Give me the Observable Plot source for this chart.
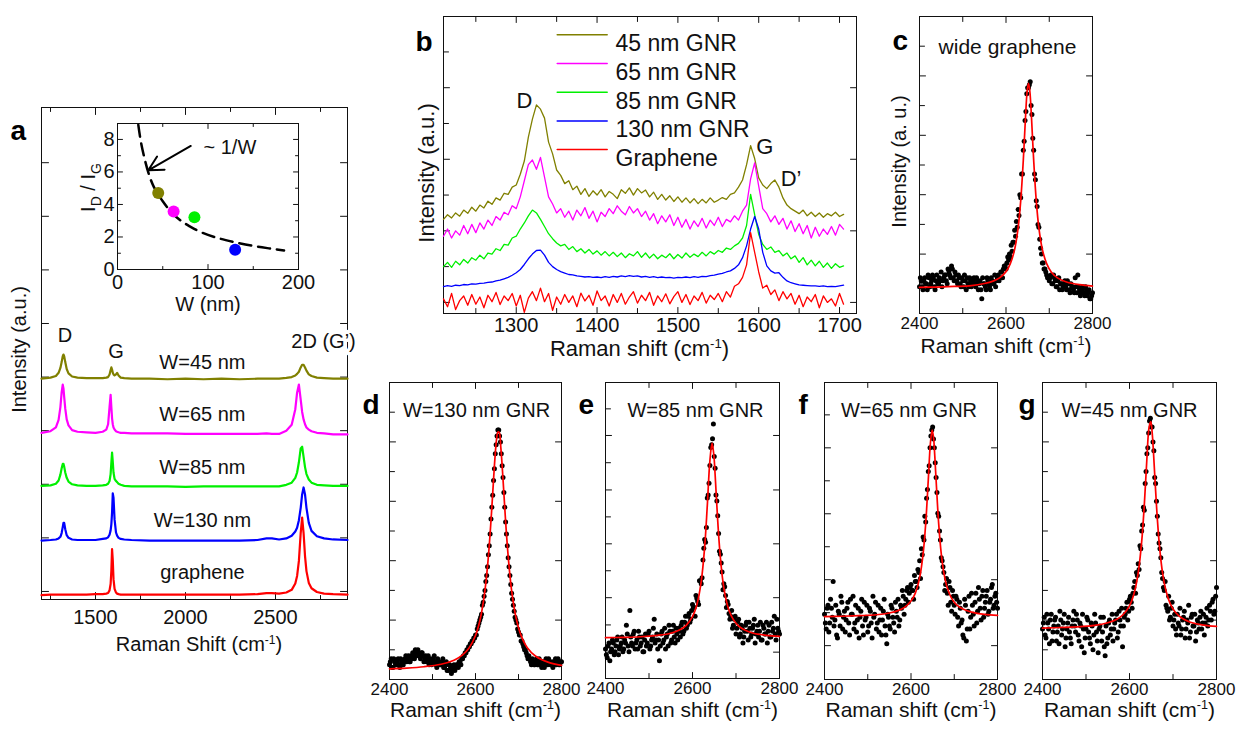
<!DOCTYPE html>
<html><head><meta charset="utf-8">
<script src="https://cdn.jsdelivr.net/npm/d3@7"></script>
<script src="https://cdn.jsdelivr.net/npm/@observablehq/plot@0.6"></script>
<style>
html,body{margin:0;padding:0;background:#fff;}
#root{position:relative;width:1236px;height:731px;overflow:hidden;background:#fff;}
#root > div{position:absolute;}
#root svg{overflow:visible;display:block;}
</style></head><body><div id="root"></div>
<script>
// ---------------- DATA ----------------
// Panel a: full spectra (Raman shift, cm-1) and offset intensities
const aShift = [1200,1250,1280,1295,1305,1312,1318,1322,1326,1332,1340,1350,1370,1400,1450,1500,1540,1560,1570,1578,1584,1588,1592,1596,1600,1606,1614,1620,1628,1640,1660,1700,1800,1900,2000,2100,2200,2300,2400,2450,2480,2520,2560,2590,2610,2620,2630,2640,2648,2656,2664,2672,2685,2700,2730,2770,2820,2900];
const aW45 = [3.97,3.99,4.02,4.08,4.17,4.28,4.39,4.42,4.39,4.28,4.15,4.07,4.01,3.99,3.98,3.98,3.98,3.99,4.00,4.05,4.13,4.18,4.14,4.08,4.05,4.03,4.05,4.08,4.03,3.99,3.98,3.97,3.97,3.96,3.97,3.96,3.97,3.96,3.97,3.97,3.97,3.97,3.985,4.00,4.03,4.06,4.10,4.18,4.23,4.23,4.18,4.12,4.05,4.02,3.99,3.98,3.97,3.97];
const aW65 = [2.96,2.99,3.06,3.20,3.44,3.72,3.86,3.79,3.63,3.41,3.21,3.10,3.01,2.98,2.97,2.96,2.98,3.02,3.12,3.44,3.67,3.44,3.23,3.12,3.06,3.02,2.99,2.98,2.97,2.96,2.96,2.95,2.95,2.95,2.94,2.94,2.94,2.94,2.94,2.95,2.94,2.94,3.00,3.11,3.40,3.71,3.86,3.58,3.35,3.21,3.12,3.06,3.02,2.99,2.96,2.95,2.93,2.93];
const aW85 = [1.97,1.98,2.01,2.07,2.18,2.30,2.38,2.38,2.33,2.22,2.12,2.05,2.00,1.98,1.97,1.97,1.98,1.99,2.01,2.06,2.19,2.40,2.59,2.42,2.22,2.10,2.06,2.04,2.01,1.99,1.97,1.96,1.96,1.96,1.95,1.96,1.96,1.96,1.96,1.96,1.96,1.96,1.99,2.03,2.12,2.22,2.41,2.67,2.70,2.51,2.32,2.19,2.09,2.03,1.99,1.98,1.97,1.97];
const aW130 = [0.95,0.96,0.97,0.99,1.02,1.09,1.20,1.28,1.28,1.16,1.05,1.00,0.97,0.96,0.96,0.96,0.98,0.99,1.01,1.06,1.14,1.25,1.47,1.83,1.75,1.34,1.10,1.04,1.00,0.98,0.97,0.96,0.95,0.95,0.95,0.95,0.95,0.95,0.96,0.99,0.99,0.97,0.99,1.04,1.12,1.19,1.33,1.56,1.81,1.94,1.81,1.56,1.28,1.13,1.03,0.99,0.97,0.96];
const aGraphene = [-0.07,-0.06,-0.06,-0.06,-0.06,-0.06,-0.06,-0.06,-0.06,-0.06,-0.06,-0.06,-0.06,-0.06,-0.06,-0.05,-0.05,-0.04,-0.03,0.02,0.14,0.38,0.79,0.58,0.23,0.05,-0.02,-0.04,-0.05,-0.06,-0.06,-0.06,-0.06,-0.06,-0.06,-0.06,-0.06,-0.06,-0.05,-0.03,-0.03,-0.04,-0.02,0.03,0.15,0.29,0.57,1.09,1.38,1.09,0.66,0.38,0.16,0.06,-0.01,-0.04,-0.05,-0.06];
const aSeriesNames = ["W=45 nm","W=65 nm","W=85 nm","W=130 nm","graphene"];
const aPeakNames = ["D","G","2D (G’)"];
const aTickLabels = [1500,2000,2500];

// Inset: ID/IG vs ribbon width
const insetW = [45,62,85,130];
const insetRatio = [4.7,3.57,3.22,1.21];
const fitW = [23,26,30,35,40,50,60,70,80,92,110,128,150,170,184];
const fitRatio = [8.9,7.8,6.8,5.8,5.1,4.2,3.5,3.0,2.65,2.3,1.95,1.7,1.45,1.28,1.17];
const insetXLabels = [0,100,200];
const insetYLabels = [0,2,4,6,8];

// Panel b: D/G region
const bShift = [1210,1215,1220,1225,1230,1235,1240,1245,1250,1255,1260,1265,1270,1275,1280,1285,1290,1295,1300,1305,1310,1315,1320,1325,1330,1335,1340,1345,1350,1355,1360,1365,1370,1375,1380,1385,1390,1395,1400,1405,1410,1415,1420,1425,1430,1435,1440,1445,1450,1455,1460,1465,1470,1475,1480,1485,1490,1495,1500,1505,1510,1515,1520,1525,1530,1535,1540,1545,1550,1555,1560,1565,1570,1575,1580,1585,1590,1595,1600,1605,1610,1615,1620,1625,1630,1635,1640,1645,1650,1655,1660,1665,1670,1675,1680,1685,1690,1695,1700,1705];
const b45 = [2.32,2.45,2.36,2.50,2.41,2.58,2.49,2.66,2.55,2.72,2.64,2.83,2.74,2.92,2.86,3.05,3.02,3.22,3.28,3.58,3.95,4.62,5.12,5.52,5.40,5.15,4.48,4.15,3.70,3.55,3.32,3.40,3.15,3.25,3.02,3.18,2.96,3.12,3.00,3.15,2.95,3.10,3.02,2.90,3.15,3.05,3.20,3.00,3.18,3.06,3.14,2.95,3.08,2.88,3.02,2.86,2.98,2.82,2.95,2.80,2.92,2.78,2.90,2.76,2.88,2.78,2.92,2.80,2.86,2.93,2.88,3.02,3.06,3.22,3.42,3.85,4.38,4.02,3.48,3.28,3.18,3.32,3.42,3.22,2.92,2.72,2.62,2.55,2.48,2.58,2.42,2.52,2.40,2.50,2.38,2.48,2.42,2.52,2.40,2.46];
const b65 = [1.85,2.05,1.80,2.00,1.88,2.15,1.92,2.18,1.95,2.22,2.05,2.30,2.15,2.40,2.30,2.52,2.45,2.70,2.62,2.95,3.40,3.85,3.98,3.72,4.05,3.50,2.95,2.75,2.50,2.62,2.38,2.55,2.30,2.58,2.42,2.65,2.35,2.55,2.25,2.52,2.40,2.62,2.48,2.70,2.55,2.45,2.68,2.50,2.62,2.40,2.55,2.30,2.48,2.20,2.42,2.25,2.45,2.15,2.38,2.10,2.32,2.05,2.28,2.12,2.35,2.08,2.30,2.15,2.38,2.12,2.32,2.25,2.42,2.30,2.55,2.72,3.45,3.90,3.25,2.62,2.48,2.25,2.42,2.18,2.35,2.05,2.28,1.98,2.20,1.92,2.15,1.80,2.10,1.85,2.05,1.90,2.12,1.88,2.18,2.05];
const b85 = [1.00,1.12,0.98,1.15,1.05,1.20,1.10,1.25,1.18,1.32,1.22,1.38,1.35,1.50,1.45,1.62,1.60,1.80,1.85,2.05,2.22,2.42,2.58,2.50,2.32,2.12,1.92,1.78,1.66,1.58,1.62,1.48,1.56,1.42,1.50,1.38,1.48,1.35,1.44,1.32,1.42,1.30,1.40,1.28,1.38,1.25,1.36,1.30,1.42,1.26,1.38,1.24,1.35,1.22,1.32,1.25,1.36,1.22,1.34,1.24,1.38,1.26,1.35,1.28,1.40,1.30,1.42,1.35,1.45,1.40,1.52,1.48,1.58,1.65,1.80,2.15,3.02,2.45,1.90,1.62,1.48,1.55,1.40,1.45,1.30,1.38,1.22,1.30,1.12,1.25,1.05,1.18,1.02,1.15,0.98,1.10,0.95,1.08,0.98,1.02];
const b130 = [0.44,0.47,0.45,0.48,0.47,0.50,0.49,0.52,0.51,0.53,0.54,0.56,0.57,0.60,0.62,0.66,0.70,0.76,0.83,0.92,1.06,1.22,1.35,1.45,1.46,1.32,1.12,1.00,0.92,0.86,0.82,0.78,0.77,0.74,0.73,0.71,0.72,0.70,0.71,0.69,0.72,0.70,0.73,0.71,0.74,0.72,0.75,0.73,0.74,0.71,0.73,0.70,0.72,0.69,0.71,0.69,0.70,0.68,0.70,0.69,0.71,0.69,0.72,0.70,0.73,0.72,0.75,0.76,0.79,0.81,0.85,0.88,0.95,1.05,1.25,1.58,2.05,2.40,2.05,1.40,1.02,0.88,0.82,0.83,0.70,0.60,0.55,0.52,0.49,0.48,0.47,0.46,0.46,0.45,0.46,0.44,0.45,0.44,0.46,0.48];
const bGraphene = [0.10,-0.12,0.25,-0.20,0.05,0.18,-0.08,0.22,-0.05,0.15,-0.15,0.20,0.02,0.28,-0.06,0.18,0.05,0.25,-0.10,0.20,-0.28,0.12,0.30,0.05,0.40,0.02,0.25,-0.22,0.15,-0.05,0.22,0.00,0.18,-0.12,0.26,0.04,0.20,-0.08,0.32,0.05,0.18,-0.10,0.22,0.00,0.25,-0.05,0.15,0.30,-0.02,0.20,0.05,0.28,-0.08,0.18,0.02,0.24,-0.04,0.16,0.30,0.00,0.22,-0.06,0.18,0.05,0.28,-0.02,0.20,0.08,0.25,0.02,0.30,0.15,0.45,0.52,0.70,1.05,1.95,1.40,0.85,0.40,0.48,0.22,0.35,0.05,0.30,0.10,0.25,-0.05,0.20,-0.12,0.15,0.02,0.22,-0.15,0.18,0.00,0.10,-0.10,0.25,-0.05];
const bLegend = ["45 nm GNR","65 nm GNR","85 nm GNR","130 nm GNR","Graphene"];
const bPeakNames = ["D","G","D’"];
const bTickLabels = [1300,1400,1500,1600,1700];

// Panels c-g: 2D band, measured points (two interleaved sample sets) and Lorentzian fit (intensity as % of frame)
const sShift = [2400,2404,2408,2412,2416,2420,2424,2428,2432,2436,2440,2444,2448,2452,2456,2460,2464,2468,2472,2476,2480,2484,2488,2492,2496,2500,2504,2508,2512,2516,2520,2524,2528,2532,2536,2540,2544,2548,2552,2556,2560,2564,2568,2572,2576,2580,2584,2588,2592,2596,2600,2604,2608,2612,2616,2620,2624,2628,2632,2636,2640,2644,2648,2652,2656,2660,2664,2668,2672,2676,2680,2684,2688,2692,2696,2700,2704,2708,2712,2716,2720,2724,2728,2732,2736,2740,2744,2748,2752,2756,2760,2764,2768,2772,2776,2780,2784,2788,2792,2796,2800];
const sShift2 = [2402,2406,2410,2414,2418,2422,2426,2430,2434,2438,2442,2446,2450,2454,2458,2462,2466,2470,2474,2478,2482,2486,2490,2494,2498,2502,2506,2510,2514,2518,2522,2526,2530,2534,2538,2542,2546,2550,2554,2558,2562,2566,2570,2574,2578,2582,2586,2590,2594,2598,2602,2606,2610,2614,2618,2622,2626,2630,2634,2638,2642,2646,2650,2654,2658,2662,2666,2670,2674,2678,2682,2686,2690,2694,2698,2702,2706,2710,2714,2718,2722,2726,2730,2734,2738,2742,2746,2750,2754,2758,2762,2766,2770,2774,2778,2782,2786,2790,2794,2798];
const cPoints = [9,11,8,12,10,13,9,11,12,8,13,10,11,9,12,13,10,14,12,15,11,13,10,12,9,11,13,8,10,12,9,11,10,12,8,11,5,10,9,12,10,8,11,10,9,12,11,14,12,16,15,19,20,23,24,28,31,35,40,47,55,65,74,76,78,67,55,45,36,29,22,17,15,14,12,11,13,10,12,9,11,8,10,9,11,8,10,7,9,8,12,7,9,6,8,7,9,6,8,5,7];
const cPoints2 = [12,9,11,10,8,12,10,13,9,11,10,12,14,11,13,11,15,13,16,12,14,11,13,10,12,9,11,12,9,11,10,12,9,11,10,8,12,10,8,11,9,12,10,13,11,13,12,14,15,16,17,18,19,21,24,26,29,33,39,47,58,68,76,77,70,59,47,38,30,25,20,17,15,13,12,12,10,13,11,9,12,10,8,10,9,11,8,10,9,7,9,13,8,7,9,6,8,7,5,6];
const dPoints = [5,7,4,6,5,7,4,6,5,7,6,8,6,7,8,10,8,9,7,9,6,8,7,5,7,6,8,5,7,6,5,7,4,6,3,5,2,4,3,5,4,6,7,8,9,10,11,12,13,14,15,17,19,21,25,28,33,38,45,54,62,71,79,84,82,76,68,58,49,41,35,29,25,21,19,16,15,13,11,10,8,8,6,7,5,6,5,7,5,6,4,7,5,6,5,4,6,5,7,5,6];
const dPoints2 = [6,4,7,5,6,5,7,5,6,8,7,6,8,9,7,9,10,8,9,8,7,6,8,6,5,7,6,4,6,5,6,4,5,3,5,4,3,5,4,5,6,5,7,8,9,10,11,12,13,14,15,18,20,22,26,30,35,42,49,58,67,76,82,84,80,72,63,53,45,38,32,27,23,20,17,15,13,12,10,9,7,7,5,6,5,7,5,6,4,6,5,6,7,5,6,5,7,6,5,6];
const ePoints = [10,7,12,9,13,8,11,14,10,12,9,13,18,11,23,12,15,10,13,16,11,14,9,15,12,16,11,14,20,13,10,6,15,12,17,14,11,16,13,18,12,15,17,14,19,16,21,18,22,20,25,24,28,26,33,32,40,47,51,62,72,79,86,71,60,49,42,36,32,28,26,22,21,17,20,15,19,14,18,12,16,19,13,17,15,18,12,16,14,19,13,17,15,12,18,14,16,21,13,17,15];
const ePoints2 = [8,11,6,10,12,9,13,8,11,14,10,12,15,9,14,11,16,12,10,14,12,9,13,11,15,10,13,17,12,15,13,11,16,13,10,15,18,12,16,14,17,13,16,18,15,19,17,21,19,23,24,21,27,25,33,34,44,46,61,66,78,81,75,62,55,43,39,30,31,24,25,20,23,18,21,17,20,15,17,14,18,16,19,14,17,20,15,18,16,13,18,15,19,16,14,19,17,15,20,16];
const fPoints = [22,17,25,19,24,33,20,15,23,18,26,21,16,24,19,27,22,17,25,20,14,23,18,26,21,16,24,19,28,22,17,25,20,15,23,18,12,21,17,24,19,26,21,18,25,30,22,27,31,29,32,30,35,33,37,40,44,48,55,61,70,78,84,81,73,63,55,47,40,36,32,29,33,26,30,25,28,21,26,19,15,27,13,23,17,29,22,26,19,31,24,28,21,26,30,23,27,32,25,29,24];
const fPoints2 = [19,24,16,27,21,18,25,14,22,28,17,23,20,26,15,22,28,19,16,24,21,27,15,20,25,18,23,14,21,26,19,16,24,20,27,15,22,18,25,21,16,23,27,20,24,28,25,30,26,31,30,27,33,31,36,34,42,47,53,64,72,82,85,78,68,56,50,41,38,30,34,25,31,23,28,22,27,18,24,20,14,25,17,28,21,25,18,29,23,27,20,30,24,28,22,26,31,24,28,26];
const gPoints = [17,21,14,19,12,22,16,20,13,18,23,15,19,11,17,21,14,18,23,16,20,13,18,22,9,17,20,14,19,10,22,16,9,18,13,21,8,12,19,15,22,17,20,14,23,18,11,21,24,20,27,26,29,33,36,39,45,50,58,66,76,83,88,85,77,66,55,46,41,34,30,25,23,20,24,18,22,15,19,24,17,21,14,20,25,16,22,18,13,20,17,23,19,15,21,18,25,20,27,23,31];
const gPoints2 = [19,15,22,17,20,13,18,21,16,12,20,17,22,14,19,16,12,20,18,22,15,19,11,17,14,21,16,12,18,15,19,13,17,21,16,11,18,14,20,17,13,19,22,16,20,24,18,22,26,23,28,24,31,29,35,37,44,52,57,70,78,87,85,80,68,60,49,44,36,31,33,24,28,21,26,20,17,22,18,15,20,23,17,19,14,21,18,22,16,19,21,17,22,19,24,20,23,26,22,28];
const fitShift = [2400,2440,2480,2520,2550,2570,2585,2600,2610,2620,2628,2634,2640,2645,2649,2652,2655,2659,2664,2670,2676,2684,2694,2705,2720,2740,2770,2800];
const cFit = [8.8,8.9,9.1,9.4,10.1,10.9,12.0,14.1,16.8,21.6,28.8,37.9,51.6,65.8,75.0,77.5,75.0,65.8,51.6,37.9,28.8,21.6,16.8,13.9,11.9,10.6,9.7,9.25];
const dFit = [3.6,3.85,4.3,5.15,6.5,8.3,10.6,14.8,19.7,27.8,38.2,49.1,62.6,74.1,80.9,83.3,83.2,77.9,67.4,53.3,41.5,29.9,21,15.2,10.8,7.85,5.75,4.77];
const eFit = [13.8,13.9,14.1,14.6,15.3,16.4,17.9,20.9,24.9,32.7,44.5,58.4,73.6,79.5,75.6,68.9,61,50.9,40.9,32.7,27.4,23,19.9,17.9,16.4,15.3,14.6,14.2];
const fFit = [21.2,21.3,21.5,21.8,22.4,23.2,24.3,26.4,29.1,34.3,42.3,52.5,67.3,79.8,84,81.6,75.3,64.6,52.5,42.3,35.9,30.8,27.3,25.2,23.7,22.7,21.95,21.6];
const gFit = [17.3,17.5,17.7,18.2,19.1,20.2,21.8,24.8,28.7,35.9,46.4,58.7,74.4,84.9,86.8,83.3,76.8,66.3,54.1,43.2,35.9,29.8,25.4,22.7,20.7,19.3,18.3,17.9];
const fitTickLabels = [2400,2600,2800];
const panelNames = ["wide graphene","W=130 nm GNR","W=85 nm GNR","W=65 nm GNR","W=45 nm GNR"];

// ---------------- STYLE / LAYOUT ----------------
const FONT = "'Liberation Sans', Arial, Helvetica, sans-serif";
const INK = "#111";
const OLIVE = "#808000", MAGENTA = "#ff00ff", GREEN = "#00f000", BLUE = "#0000ff", RED = "#ff0000";
const root = document.getElementById("root");
const NS = "http://www.w3.org/2000/svg";

function tspan(text, attrs) {
  const e = document.createElementNS(NS, "tspan");
  for (const k in attrs) e.setAttribute(k, attrs[k]);
  e.textContent = text;
  return e;
}
function fixText(svg) {
  svg.querySelectorAll("text").forEach(t => {
    const s = t.textContent;
    const fs = parseFloat(getComputedStyle(t).fontSize) || 20;
    if (s.endsWith("(cm-1)")) {
      t.textContent = "";
      t.append(document.createTextNode(s.slice(0, -3)));
      t.append(tspan("-1", {dy: -0.34 * fs, "font-size": 0.6 * fs}));
      t.append(tspan(")", {dy: 0.34 * fs}));
    } else if (s === "ID / IG") {
      t.textContent = "";
      t.append(document.createTextNode("I"));
      t.append(tspan("D", {dy: 0.28 * fs, "font-size": 0.7 * fs}));
      t.append(tspan(" / I", {dy: -0.28 * fs}));
      t.append(tspan("G", {dy: 0.28 * fs, "font-size": 0.7 * fs}));
    }
  });
}
function panel({box, frame, x, y, marks}) {
  const [left, top, width, height] = box;
  const [fx0, fy0, fx1, fy1] = frame;
  const svg = Plot.plot({
    width, height,
    marginLeft: fx0 - left, marginTop: fy0 - top,
    marginRight: left + width - fx1, marginBottom: top + height - fy1,
    x, y,
    style: {background: "transparent", overflow: "visible", fontFamily: FONT, color: INK},
    marks
  });
  const div = document.createElement("div");
  div.style.left = left + "px"; div.style.top = top + "px";
  div.style.width = width + "px"; div.style.height = height + "px";
  div.appendChild(svg);
  root.appendChild(div);
  fixText(svg);
  return svg;
}
// straight segment shape for vector marks (inward ticks, legend swatches)
const hline = {draw(context, l) { context.moveTo(0, 0); context.lineTo(0, -l); }};
function tickSet(values, side, length) {
  const horizontal = side === "bottom" || side === "top";
  const rotate = {bottom: 0, top: 180, left: 90, right: -90}[side];
  return Plot.vector(values, {[horizontal ? "x" : "y"]: d => d, frameAnchor: side, rotate, length, anchor: "start", shape: hline, stroke: INK, strokeWidth: 1});
}
function ticksFor(o) {
  const len = o.len ?? 6, mlen = o.minorLen ?? 3.5;
  const m = [];
  for (const side of ["bottom", "top"]) {
    m.push(tickSet(o.xMajor, side, len));
    if (o.xMinor) m.push(tickSet(o.xMinor, side, mlen));
  }
  m.push(tickSet(o.yMajor, "left", len));
  if (o.yMinor) m.push(tickSet(o.yMinor, "left", mlen));
  m.push(tickSet(o.yRight ?? o.yMajor, "right", len));
  if (o.yRightMinor) m.push(tickSet(o.yRightMinor, "right", mlen));
  return m;
}
const xLabels = (ticks, fontSize, pad) => Plot.axisX({anchor: "bottom", ticks, tickSize: 0, tickPadding: pad, tickFormat: "d", fontSize, label: null, fill: INK});
const yLabels = (ticks, fontSize, pad) => Plot.axisY({anchor: "left", ticks, tickSize: 0, tickPadding: pad, tickFormat: "d", fontSize, label: null, fill: INK});
const xTitle = (text, dx, dy, fontSize) => Plot.text([text], {frameAnchor: "bottom", textAnchor: "middle", dx, dy, fontSize, fill: INK});
const yTitle = (text, dx, dy, fontSize) => Plot.text([text], {frameAnchor: "left", textAnchor: "middle", rotate: -90, dx, dy, fontSize, fill: INK});
const letter = (ch, dx, dy) => Plot.text([ch], {frameAnchor: "top-left", textAnchor: "start", dx, dy, fontSize: 28, fontWeight: "bold", fill: "#000"});
const rows = (xs, ys) => xs.map((x, i) => ({x, y: ys[i]}));

// ---------------- PANEL a ----------------
const aSeries = [aW45, aW65, aW85, aW130, aGraphene];
const aColors = [OLIVE, MAGENTA, GREEN, BLUE, RED];
const aNameY = [4.27, 3.30, 2.31, 1.32, 0.35];
const aPeakPos = [{x: 1331, y: 4.78}, {x: 1614, y: 4.48}, {x: 2767, y: 4.66}];
panel({
  box: [0, 95, 370, 580], frame: [41, 107, 347, 599],
  x: {domain: [1200, 2900]}, y: {domain: [-0.15, 9.03], axis: null},
  marks: [
    Plot.frame({stroke: INK}),
    ...ticksFor({xMajor: [1500, 2000, 2500], xMinor: [1250, 1750, 2250, 2750], yMajor: [0,1,2,3,4,5,6,7,8], len: 7, minorLen: 4}),
    xLabels(aTickLabels, 20, 10),
    ...aSeries.map((s, i) => Plot.line(rows(aShift, s), {x: "x", y: "y", stroke: aColors[i], strokeWidth: 2.2})),
    ...aSeriesNames.map((n, i) => Plot.text([n], {x: () => 2094, y: () => aNameY[i], fontSize: 20, fill: INK})),
    ...aPeakNames.map((n, i) => Plot.text([n], {x: () => aPeakPos[i].x, y: () => aPeakPos[i].y, fontSize: 20, fill: INK, stroke: "white", strokeWidth: 7, paintOrder: "stroke"})),
    yTitle("Intensity (a.u.)", -21.5, -4, 20),
    xTitle("Raman Shift (cm-1)", 4.5, 51, 20),
    letter("a", -31, 13)
  ]
});

// ---------------- INSET ----------------
const insetColors = [OLIVE, MAGENTA, GREEN, BLUE];
const insetArrow = [{x1: 81, y1: 7.6, x2: 34, y2: 6.1}];
panel({
  box: [60, 110, 260, 210], frame: [117, 123, 298, 269],
  x: {domain: [0, 200]}, y: {domain: [0, 8.98]},
  marks: [
    Plot.frame({stroke: INK}),
    ...ticksFor({xMajor: [0, 100, 200], xMinor: [50, 150], yMajor: [0, 2, 4, 6, 8], yMinor: [1, 3, 5, 7], yRightMinor: [1, 3, 5, 7], len: 5, minorLen: 3}),
    xLabels(insetXLabels, 20, 5.5),
    yLabels(insetYLabels, 20, 3),
    Plot.line(rows(fitW, fitRatio), {x: "x", y: "y", stroke: "#000", strokeWidth: 2.5, strokeDasharray: "12,7", curve: "catmull-rom"}),
    ...insetW.map((w, i) => Plot.dot([{x: w, y: insetRatio[i]}], {x: "x", y: "y", r: 6, fill: insetColors[i], stroke: "none"})),
    Plot.arrow(insetArrow, {x1: "x1", y1: "y1", x2: "x2", y2: "y2", stroke: "#000", strokeWidth: 2, headLength: 14, headAngle: 55}),
    Plot.text(["~ 1/W"], {x: () => 95, y: () => 7.52, textAnchor: "start", fontSize: 20, fill: INK}),
    yTitle("ID / IG", -29, -9, 20),
    xTitle("W (nm)", 0, 41, 20)
  ]
});

// ---------------- PANEL b ----------------
const bSeries = [b45, b65, b85, b130, bGraphene];
const bPeakPos = [{x: 1310, y: 5.63}, {x: 1607.5, y: 4.34}, {x: 1640, y: 3.44}];
panel({
  box: [395, 0, 470, 370], frame: [443, 16, 856, 313],
  x: {domain: [1210, 1721]}, y: {domain: [-0.31, 7.99], axis: null},
  marks: [
    Plot.frame({stroke: INK}),
    ...ticksFor({xMajor: bTickLabels, xMinor: [1250, 1350, 1450, 1550, 1650], yMajor: [0, 2, 4, 6], yMinor: [1, 3, 5, 7], len: 6, minorLen: 5}),
    xLabels(bTickLabels, 20, 4),
    ...bSeries.map((s, i) => Plot.line(rows(bShift, s), {x: "x", y: "y", stroke: aColors[i], strokeWidth: 1.3})),
    ...bLegend.map((n, i) => Plot.vector([0], {frameAnchor: "top-left", dx: 113.7, dy: 18.3 + i * 28.7, length: 50, rotate: 90, anchor: "start", shape: hline, stroke: aColors[i], strokeWidth: 1.5})),
    ...bLegend.map((n, i) => Plot.text([n], {frameAnchor: "top-left", dx: 172, dy: 18.3 + i * 28.7, textAnchor: "start", fontSize: 23, fill: INK})),
    ...bPeakNames.map((n, i) => Plot.text([n], {x: () => bPeakPos[i].x, y: () => bPeakPos[i].y, fontSize: 22, fill: INK})),
    yTitle("Intensity (a.u.)", -17, 8, 22),
    xTitle("Raman shift (cm-1)", -10.5, 42, 22),
    letter("b", -28, 15)
  ]
});

// ---------------- PANELS c-g ----------------
function fitPanel(p) {
  const pts = rows(sShift, p.points).concat(rows(sShift2, p.points2));
  return panel({
    box: p.box, frame: p.frame,
    x: {domain: [2400, 2800]}, y: {domain: [0, 100], axis: null},
    marks: [
      Plot.frame({stroke: INK}),
      ...ticksFor({xMajor: fitTickLabels, xMinor: [2500, 2700], yMajor: p.yMajor, yMinor: p.yMinor, len: 6, minorLen: 5}),
      xLabels(fitTickLabels, 17, 3.5),
      Plot.dot(pts, {x: "x", y: "y", r: 2.5, fill: "#000", stroke: "none"}),
      Plot.line(rows(fitShift, p.fit), {x: "x", y: "y", stroke: RED, strokeWidth: 1.7, curve: "catmull-rom"}),
      Plot.text([p.name], {frameAnchor: "top", textAnchor: "middle", dx: p.nameDx, dy: p.nameDy, fontSize: p.nameSize, fill: INK}),
      xTitle("Raman shift (cm-1)", 0, p.titleDy, 21),
      letter(p.letter, p.letterDx, p.letterDy),
      ...(p.extra || [])
    ]
  });
}
fitPanel({box: [875, 0, 240, 370], frame: [919, 16, 1092, 313], points: cPoints, points2: cPoints2, fit: cFit,
  yMajor: [20, 40, 60, 80], yMinor: [10, 30, 50, 70, 90], name: panelNames[0], nameDx: 1.5, nameDy: 23, nameSize: 21,
  titleDy: 39, letter: "c", letterDx: -27, letterDy: 14, extra: [yTitle("Intensity (a. u.)", -20, -3.5, 20)]});
fitPanel({box: [355, 365, 230, 366], frame: [389, 382, 561, 679], points: dPoints, points2: dPoints2, fit: dFit,
  yMajor: [20, 40, 60, 80], yMinor: [10, 30, 50, 70, 90], name: panelNames[1], nameDx: 1, nameDy: 20, nameSize: 20,
  titleDy: 37, letter: "d", letterDx: -27, letterDy: 12});
fitPanel({box: [571, 365, 230, 366], frame: [605, 382, 779, 678], points: ePoints, points2: ePoints2, fit: eFit,
  yMajor: [8.9, 27.3, 45.5, 63.7, 82.1], yMinor: [18.1, 36.4, 54.6, 72.9, 91.1], name: panelNames[2], nameDx: 3, nameDy: 20, nameSize: 20,
  titleDy: 38, letter: "e", letterDx: -27, letterDy: 12});
fitPanel({box: [790, 365, 230, 366], frame: [824, 382, 997, 679], points: fPoints, points2: fPoints2, fit: fFit,
  yMajor: [11.4, 33.6, 55.8, 78], yMinor: [22.5, 44.7, 66.9, 89.1], name: panelNames[3], nameDx: -2, nameDy: 20, nameSize: 20,
  titleDy: 37, letter: "f", letterDx: -26, letterDy: 12});
fitPanel({box: [1008, 365, 228, 366], frame: [1042, 382, 1216, 679], points: gPoints, points2: gPoints2, fit: gFit,
  yMajor: [20, 40, 60, 80], yMinor: [10, 30, 50, 70, 90], name: panelNames[4], nameDx: 0, nameDy: 20, nameSize: 20,
  titleDy: 37, letter: "g", letterDx: -24, letterDy: 12});
</script></body></html>
